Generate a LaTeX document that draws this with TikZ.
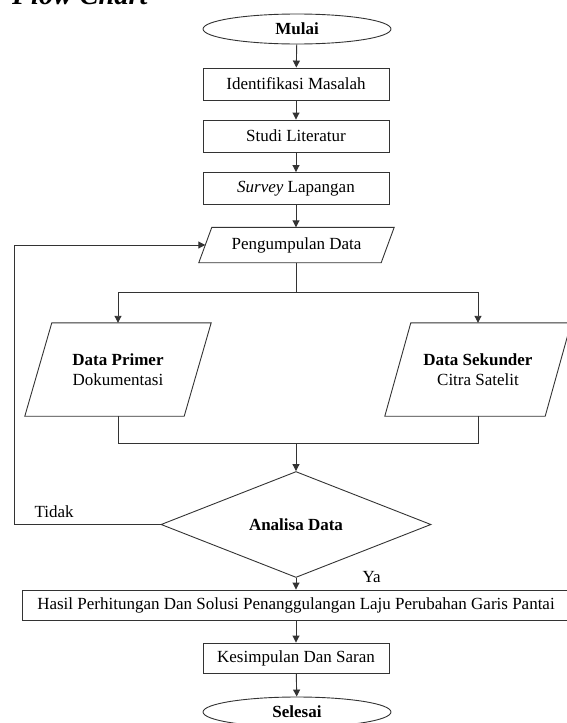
\documentclass[tikz,border=0pt]{standalone}
\usepackage{fontspec}
\setmainfont{Liberation Serif}
\usetikzlibrary{shapes.geometric,arrows.meta,calc}
\tikzset{
  ln/.style={draw=black!80, line width=0.9pt},
  arr/.style={ln, -{Triangle[length=7pt,width=7pt]}},
  txt/.style={font=\fontsize{17}{19.5}\selectfont, text=black},
  procbox/.style={ln, txt, rectangle, inner sep=0pt, minimum height=32pt},
  term/.style={ln, txt, ellipse, inner sep=0pt, minimum width=188pt, minimum height=30pt},
  iobox/.style={txt, rectangle, inner sep=0pt, align=center},
  decision/.style={ln, txt, diamond, inner sep=0pt, minimum width=270pt, minimum height=91pt},
}
\begin{document}
\begin{tikzpicture}[x=1pt,y=-1pt]
\useasboundingbox (0,0) rectangle (567,723);
\node[anchor=base west, inner sep=0pt, font=\bfseries\itshape\fontsize{28.5}{30}\selectfont] (title) at (12,4.5) {Flow Chart};

\node[term] (mulai) at (297,29) {\textbf{Mulai}};
\node[procbox, minimum width=186pt] (idm) at (296,84) {Identifikasi Masalah};
\node[procbox, minimum width=186pt] (stl) at (296,136) {Studi Literatur};
\node[procbox, minimum width=186pt] (svl) at (296,188.5) {\textit{Survey} Lapangan};

% Pengumpulan Data (parallelogram)
\node[iobox, minimum width=195pt, minimum height=35pt] (pd) at (296.5,245) {Pengumpulan Data};
\draw[ln] ([xshift=13pt]pd.north west) -- (pd.north east) -- ([xshift=-13pt]pd.south east) -- (pd.south west) -- cycle;
\path ([xshift=6.5pt]pd.west) coordinate (pdL);

% Data Primer
\node[iobox, minimum width=186pt, minimum height=93pt] (dp) at (118,369.5) {\textbf{Data Primer}\\Dokumentasi};
\draw[ln] ([xshift=27pt]dp.north west) -- (dp.north east) -- ([xshift=-27pt]dp.south east) -- (dp.south west) -- cycle;

% Data Sekunder
\node[iobox, minimum width=186pt, minimum height=93pt] (ds) at (478,369.5) {\textbf{Data Sekunder}\\Citra Satelit};
\draw[ln] ([xshift=26pt]ds.north west) -- (ds.north east) -- ([xshift=-26pt]ds.south east) -- (ds.south west) -- cycle;

\node[decision] (ad) at (296,524.5) {\textbf{Analisa Data}};

\node[procbox, minimum width=548pt, minimum height=30pt] (hasil) at (296,605) {Hasil Perhitungan Dan Solusi Penanggulangan Laju Perubahan Garis Pantai};
\node[procbox, minimum width=186pt, minimum height=30pt] (kes) at (296,658) {Kesimpulan Dan Saran};
\node[term] (selesai) at (297,712) {\textbf{Selesai}};

\coordinate (split) at (296,292);
\coordinate (merge) at (296,443);

\draw[arr] (mulai) -- (idm);
\draw[arr] (idm) -- (stl);
\draw[arr] (stl) -- (svl);
\draw[arr] (svl.south) -- (pd.north -| svl.south);
\draw[ln] (pd.south -| split) -- (split);
\draw[arr] (split) -| (dp.north);
\draw[arr] (split) -| (ds.north);
\draw[ln] (dp.south) |- (merge);
\draw[ln] (ds.south) |- (merge);
\draw[arr] (merge) -- (ad.north);
\draw[arr] (ad.west) -- ++(-146,0) |- (pdL);
\draw[arr] (ad.south) -- (hasil.north -| ad.south);
\draw[arr] (hasil.south -| kes.north) -- (kes.north);
\draw[arr] (kes) -- (selesai);

\node[txt, anchor=west] (tidak) at (31,512) {Tidak};
\node[txt, anchor=west] (ya) at (359,577) {Ya};
\end{tikzpicture}
\end{document}
